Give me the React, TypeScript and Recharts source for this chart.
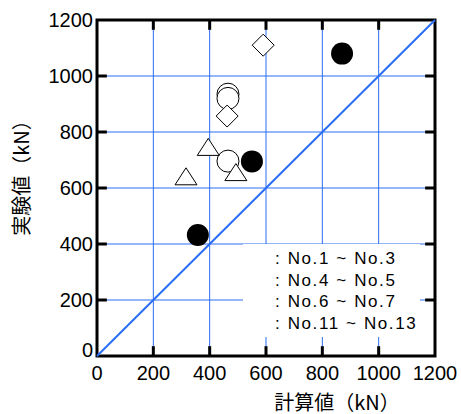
import {
  ScatterChart,
  Scatter,
  XAxis,
  YAxis,
  CartesianGrid,
  ReferenceLine,
  ReferenceArea,
  Legend,
} from "recharts";

// 計算値 / 実験値 (kN)
const calcA = [358, 550, 870];
const expA = [432, 695, 1080];
const calcB = [465, 465, 465];
const expB = [935, 920, 696];
const calcC = [590, 462];
const expC = [1110, 857];
const calcD = [395, 316, 493];
const expD = [745, 640, 655];

const ticks = [0, 200, 400, 600, 800, 1000, 1200];
const legendLabels = [
  ": No.1 ~ No.3",
  ": No.4 ~ No.5",
  ": No.6 ~ No.7",
  ": No.11 ~ No.13",
];

const toPoints = (xs: number[], ys: number[]) =>
  xs.map((x, i) => ({ x, y: ys[i] }));

const BLUE = "#2a6ef5";
const tickFont = "'Liberation Sans', Arial, sans-serif";
const cjkFont = "'Noto Sans CJK JP', sans-serif";
const TICK_LEN = 35;

const FilledCircle = (p: any) => <circle cx={p.cx} cy={p.cy} r={11} fill="#000" />;
const OpenCircle = (p: any) => (
  <circle cx={p.cx} cy={p.cy} r={11} fill="#fff" stroke="#000" strokeWidth={1} />
);
const Diamond = (p: any) => (
  <polygon
    points={`${p.cx},${p.cy - 11} ${p.cx + 11},${p.cy} ${p.cx},${p.cy + 11} ${p.cx - 11},${p.cy}`}
    fill="#fff"
    stroke="#000"
    strokeWidth={1}
  />
);
const Triangle = (p: any) => (
  <polygon
    points={`${p.cx},${p.cy - 9} ${p.cx + 11},${p.cy + 8} ${p.cx - 11},${p.cy + 8}`}
    fill="#fff"
    stroke="#000"
    strokeWidth={1}
  />
);

const YTick = (props: any) => {
  const { x, y, payload } = props;
  return (
    <text
      x={x}
      y={payload.value === 0 ? y - 6 : y}
      textAnchor="end"
      dominantBaseline="central"
      fontSize={20}
      fontFamily={tickFont}
      fill="#000"
    >
      {payload.value}
    </text>
  );
};

const LegendText = () => (
  <div style={{ paddingLeft: 32, paddingTop: 4, textAlign: "left" }}>
    {legendLabels.map((t) => (
      <div
        key={t}
        style={{
          fontFamily: tickFont,
          fontSize: 17,
          letterSpacing: 1.6,
          lineHeight: "21.7px",
          color: "#000",
          whiteSpace: "pre",
        }}
      >
        {t}
      </div>
    ))}
  </div>
);

const App = () => {
  return (
    <div style={{ position: "absolute", left: 0, top: 0 }}>
      <ScatterChart
        width={461}
        height={414}
        margin={{ top: 20, right: 26, left: 0, bottom: 0 }}
      >
        <CartesianGrid stroke={BLUE} strokeWidth={1} />
        <XAxis
          type="number"
          dataKey="x"
          domain={[0, 1200]}
          ticks={ticks}
          height={58}
          axisLine={false}
          tickLine={false}
          tickSize={0}
          tickMargin={10}
          tick={{ fontSize: 20, fill: "#000", fontFamily: tickFont }}
        />
        <YAxis
          type="number"
          dataKey="y"
          domain={[0, 1200]}
          ticks={ticks}
          width={97}
          axisLine={false}
          tickLine={false}
          tickSize={0}
          tickMargin={4}
          tick={<YTick />}
        />
        <ReferenceLine
          segment={[
            { x: 0, y: 0 },
            { x: 1200, y: 1200 },
          ]}
          stroke={BLUE}
          strokeWidth={2}
        />
        {ticks.slice(1, -1).map((v) => (
          <ReferenceLine
            key={`b${v}`}
            segment={[
              { x: v, y: 0 },
              { x: v, y: TICK_LEN },
            ]}
            stroke="#000"
            strokeWidth={3}
          />
        ))}
        {ticks.slice(1, -1).map((v) => (
          <ReferenceLine
            key={`t${v}`}
            segment={[
              { x: v, y: 1200 },
              { x: v, y: 1200 - TICK_LEN },
            ]}
            stroke="#000"
            strokeWidth={3}
          />
        ))}
        {ticks.slice(1, -1).map((v) => (
          <ReferenceLine
            key={`l${v}`}
            segment={[
              { x: 0, y: v },
              { x: TICK_LEN, y: v },
            ]}
            stroke="#000"
            strokeWidth={3}
          />
        ))}
        {ticks.slice(1, -1).map((v) => (
          <ReferenceLine
            key={`r${v}`}
            segment={[
              { x: 1200, y: v },
              { x: 1200 - TICK_LEN, y: v },
            ]}
            stroke="#000"
            strokeWidth={3}
          />
        ))}
        <Scatter
          name="A"
          data={toPoints(calcA, expA)}
          shape={FilledCircle}
          isAnimationActive={false}
        />
        <Scatter
          name="B"
          data={toPoints(calcB, expB)}
          shape={OpenCircle}
          isAnimationActive={false}
        />
        <Scatter
          name="C"
          data={toPoints(calcC, expC)}
          shape={Diamond}
          isAnimationActive={false}
        />
        <Scatter
          name="D"
          data={toPoints(calcD, expD)}
          shape={Triangle}
          isAnimationActive={false}
        />
        <ReferenceArea
          x1={0}
          x2={1200}
          y1={0}
          y2={1200}
          fill="none"
          fillOpacity={0}
          stroke="#000"
          strokeWidth={3}
        />
        <Legend
          layout="horizontal"
          verticalAlign="middle"
          align="center"
          content={<LegendText />}
          wrapperStyle={{
            position: "absolute",
            left: 243,
            top: 244,
            width: 177,
            height: 93,
            background: "#fff",
          }}
        />
        <text
          x={20}
          y={173}
          transform="rotate(-90 20 173)"
          textAnchor="middle"
          dominantBaseline="central"
          fontSize={20}
          fontFamily={cjkFont}
          fill="#000"
        >
          実験値（kN）
        </text>
        <text
          x={337}
          y={401}
          textAnchor="middle"
          dominantBaseline="central"
          fontSize={20}
          fontFamily={cjkFont}
          fill="#000"
        >
          計算値（kN）
        </text>
      </ScatterChart>
    </div>
  );
};

export default App;
